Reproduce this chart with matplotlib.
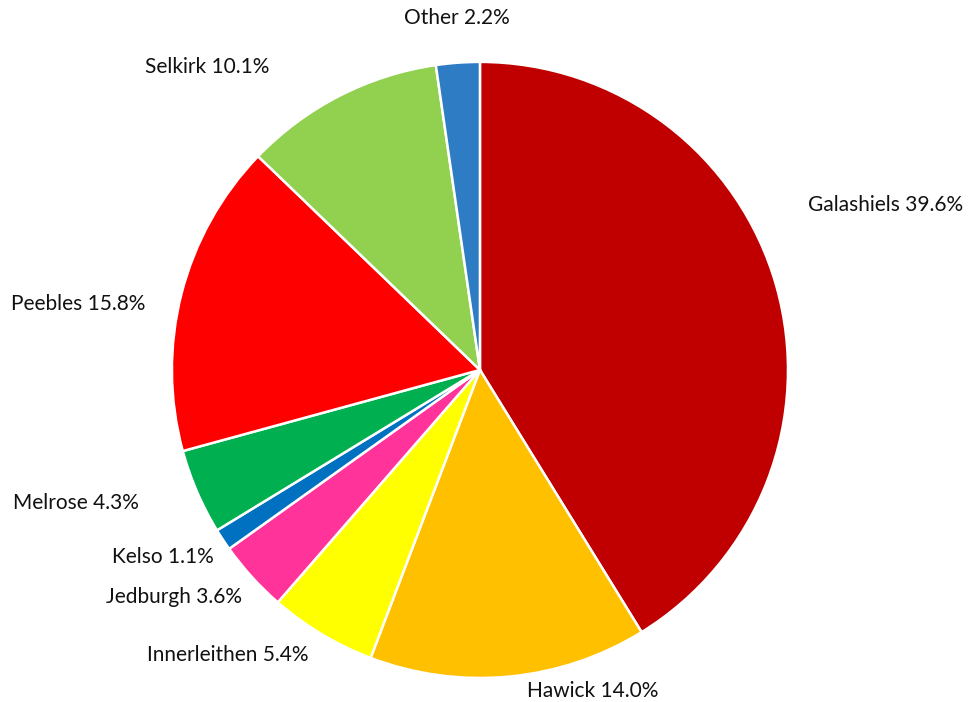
import matplotlib.pyplot as plt

towns = ["Galashiels", "Hawick", "Innerleithen", "Jedburgh", "Kelso",
         "Melrose", "Peebles", "Selkirk", "Other"]
shares = [39.6, 14.0, 5.4, 3.6, 1.1, 4.3, 15.8, 10.1, 2.2]
colors = ["#C00000", "#FFC000", "#FFFF00", "#FF3399", "#0070C0",
          "#00B050", "#FF0000", "#92D050", "#2E7DC4"]

# label centres (pie radius = 1)
label_xy = [(1.318, 0.536), (0.367, -1.042), (-0.818, -0.925),
            (-0.994, -0.737), (-1.029, -0.607), (-1.312, -0.432),
            (-1.305, 0.214), (-0.886, 0.984), (-0.075, 1.143)]

fig = plt.figure(figsize=(9.71, 7.02), dpi=100)
ax = fig.add_axes([0, 0, 1, 1])

ax.pie(shares, colors=colors, startangle=90, counterclock=False,
       wedgeprops=dict(edgecolor="white", linewidth=1.8))

for town, val, (x, y) in zip(towns, shares, label_xy):
    ax.text(x, y, f"{town} {val:.1f}%", ha="center", va="center",
            fontsize=15, family=["Lato", "DejaVu Sans"], color="#111111")

ax.set_xlim(-1.558, 1.594)
ax.set_ylim(-1.078, 1.201)
ax.set_aspect("equal")
ax.axis("off")

fig.savefig("out.png", dpi=100)
